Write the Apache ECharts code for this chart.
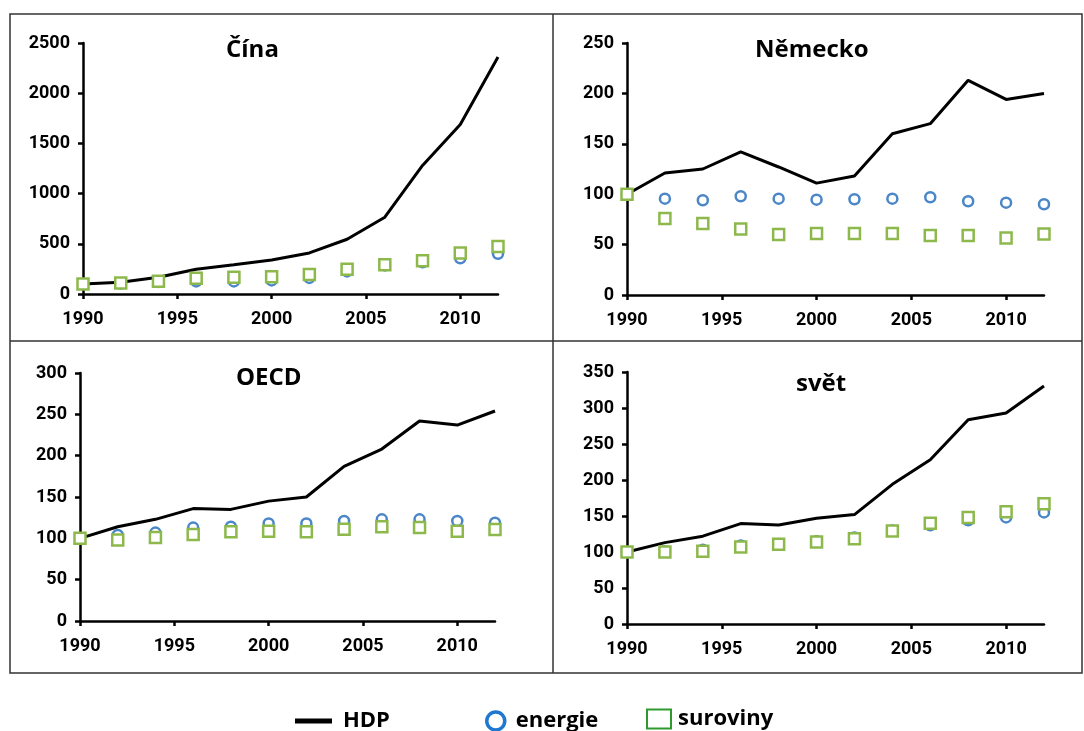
<!DOCTYPE html>
<html>
<head>
<meta charset="utf-8">
<script src="https://cdn.jsdelivr.net/npm/echarts@6/dist/echarts.min.js"></script>
<style>
  html, body { margin: 0; padding: 0; background: #fff; }
  #chart { width: 1084px; height: 731px; }
</style>
</head>
<body>
<div id="chart"></div>
<script>
// roky (data po dvou letech)
let years = [1990, 1992, 1994, 1996, 1998, 2000, 2002, 2004, 2006, 2008, 2010, 2012];
let xTicks = [1990, 1995, 2000, 2005, 2010];

// Čína
let cinaHdp = [100, 116, 166, 246, 292, 339, 409, 545, 765, 1280, 1689, 2360];
let cinaEnergie = [100, 105, 120, 125, 125, 135, 160, 225, 285, 315, 355, 400];
let cinaSuroviny = [100, 110, 126, 156, 166, 173, 193, 246, 292, 332, 409, 472];

// Německo
let nemHdp = [100, 121, 125, 142, 127, 111, 118, 160, 170, 213, 194, 200];
let nemEnergie = [100, 95.6, 94, 98, 95.6, 94.6, 95, 95.6, 97, 93, 91.6, 90];
let nemSuroviny = [100, 76, 71, 65.5, 60, 61, 61, 61, 59, 59, 56.5, 60.5];

// OECD
let oecdHdp = [100, 114, 123, 136, 135, 145, 150, 187, 208, 242, 237, 254];
let oecdEnergie = [100, 104, 107, 113, 114, 118, 118, 121, 123, 123, 121, 119];
let oecdSuroviny = [100, 98, 101, 104.5, 108, 108.6, 108, 111, 114, 113, 108.6, 110.6];

// svět
let svetHdp = [100, 113, 122, 139.5, 137.6, 147, 152, 194, 228, 283.6, 293, 330.5];
let svetEnergie = [100, 101, 103, 109, 111, 115, 120, 130, 137, 144, 148, 155];
let svetSuroviny = [100, 100, 101, 107, 110.6, 114, 118.5, 129, 140, 148, 156, 167];

let panels = [
  { title: 'Čína', hdp: cinaHdp, en: cinaEnergie, sur: cinaSuroviny, max: 2500, step: 500,
    grid: { left: 83, top: 43, width: 415, height: 251 }, titlePos: { left: 226, top: 38 } },
  { title: 'Německo', hdp: nemHdp, en: nemEnergie, sur: nemSuroviny, max: 250, step: 50,
    grid: { left: 627, top: 43, width: 417, height: 252 }, titlePos: { left: 755, top: 38 } },
  { title: 'OECD', hdp: oecdHdp, en: oecdEnergie, sur: oecdSuroviny, max: 300, step: 50,
    grid: { left: 80, top: 373, width: 415, height: 248 }, titlePos: { left: 236, top: 366 } },
  { title: 'svět', hdp: svetHdp, en: svetEnergie, sur: svetSuroviny, max: 350, step: 50,
    grid: { left: 627, top: 372, width: 417, height: 252 }, titlePos: { left: 796, top: 372 } }
];

let blue = '#4a86c8';
let green = '#8db94c';
let labelFont = { color: '#000', fontFamily: 'Roboto', fontWeight: 'bold', fontSize: 18 };

function pairs(arr) {
  return years.map((y, i) => [y, arr[i]]);
}

let grids = [], xAxes = [], yAxes = [], series = [], titles = [];
panels.forEach((p, i) => {
  grids.push(p.grid);
  titles.push({
    text: p.title,
    left: p.titlePos.left,
    top: p.titlePos.top,
    padding: 0,
    textStyle: { fontFamily: 'Open Sans', fontWeight: 'bold', fontSize: 24, color: '#000' }
  });
  xAxes.push({
    type: 'value', gridIndex: i, min: 1990, max: 2012,
    splitLine: { show: false },
    axisLine: { onZero: false, lineStyle: { color: '#000', width: 2.5 } },
    axisTick: { customValues: xTicks, length: 5, lineStyle: { color: '#000', width: 2.5 } },
    axisLabel: Object.assign({ customValues: xTicks, margin: 16, formatter: v => String(v) }, labelFont)
  });
  yAxes.push({
    type: 'value', gridIndex: i, min: 0, max: p.max, interval: p.step,
    splitLine: { show: false },
    axisLine: { show: true, lineStyle: { color: '#000', width: 2.5 } },
    axisTick: { show: true, length: 5, lineStyle: { color: '#000', width: 2.5 } },
    axisLabel: Object.assign({ margin: 13, formatter: v => String(v) }, labelFont)
  });
  series.push({
    name: 'HDP', type: 'line', xAxisIndex: i, yAxisIndex: i,
    data: pairs(p.hdp), symbol: 'none',
    lineStyle: { color: '#000', width: 3 }, itemStyle: { color: '#000' }, z: 2
  });
  series.push({
    name: 'energie', type: 'scatter', xAxisIndex: i, yAxisIndex: i,
    data: pairs(p.en), symbol: 'circle', symbolSize: 10,
    itemStyle: { color: '#fff', borderColor: blue, borderWidth: 2.5, opacity: 1 }, z: 3
  });
  series.push({
    name: 'suroviny', type: 'scatter', xAxisIndex: i, yAxisIndex: i,
    data: pairs(p.sur), symbol: 'rect', symbolSize: 11,
    itemStyle: { color: '#fff', borderColor: green, borderWidth: 2.5, opacity: 1 }, z: 4
  });
});

let legendText = { fontFamily: 'Open Sans', fontWeight: 'bold', fontSize: 22, color: '#000' };

let option = {
  backgroundColor: '#fff',
  animation: false,
  title: titles,
  grid: grids,
  xAxis: xAxes,
  yAxis: yAxes,
  series: series,
  legend: [
    {
      data: [{ name: 'HDP', icon: 'rect' }], left: 295, top: 710, padding: 0,
      itemWidth: 37, itemHeight: 5, selectedMode: false,
      itemStyle: { color: '#000', borderWidth: 0 },
      textStyle: Object.assign({ padding: [0, 0, 0, 6] }, legendText)
    },
    {
      data: [{ name: 'energie', icon: 'circle' }], left: 485, top: 710, padding: 0,
      itemWidth: 18, itemHeight: 18, selectedMode: false,
      itemStyle: { color: '#fff', borderColor: '#1e78d2', borderWidth: 3.5 },
      textStyle: Object.assign({ padding: [0, 0, 0, 6] }, legendText)
    },
    {
      data: [{ name: 'suroviny', icon: 'rect' }], left: 646, top: 708, padding: 0,
      itemWidth: 24, itemHeight: 19, selectedMode: false,
      itemStyle: { color: '#fff', borderColor: '#2e9a2e', borderWidth: 2 },
      textStyle: Object.assign({ padding: [0, 0, 0, 2] }, legendText)
    }
  ],
  graphic: [
    { type: 'rect', shape: { x: 10, y: 14, width: 1072, height: 659 }, style: { fill: null, stroke: '#333', lineWidth: 1.5 }, silent: true },
    { type: 'line', shape: { x1: 553, y1: 14, x2: 553, y2: 673 }, style: { stroke: '#333', lineWidth: 1.5 }, silent: true },
    { type: 'line', shape: { x1: 10, y1: 341, x2: 1082, y2: 341 }, style: { stroke: '#333', lineWidth: 1.5 }, silent: true }
  ]
};

let chart = echarts.init(document.getElementById('chart'));
chart.setOption(option);
</script>
</body>
</html>
